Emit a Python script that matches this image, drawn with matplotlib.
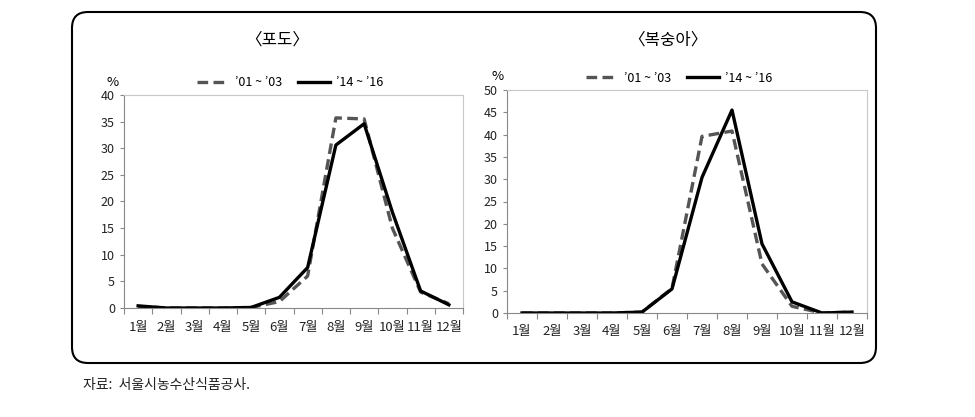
import matplotlib.pyplot as plt
from matplotlib.patches import FancyBboxPatch

plt.rcParams['font.family'] = ['Noto Sans CJK KR', 'DejaVu Sans']

months = ['1월', '2월', '3월', '4월', '5월', '6월', '7월', '8월', '9월', '10월', '11월', '12월']
legend_labels = ['’01 ~ ’03', '’14 ~ ’16']

# 포도 (grape)
grape_0103 = [0.3, 0.0, 0.0, 0.0, 0.1, 1.2, 6.0, 35.7, 35.5, 15.0, 3.0, 0.8]
grape_1416 = [0.4, 0.0, 0.0, 0.0, 0.1, 2.0, 7.6, 30.6, 34.6, 18.0, 3.2, 0.6]

# 복숭아 (peach)
peach_0103 = [0.0, 0.0, 0.0, 0.0, 0.2, 5.5, 39.6, 40.8, 11.0, 1.5, 0.0, 0.2]
peach_1416 = [0.0, 0.0, 0.0, 0.0, 0.2, 5.4, 30.4, 45.5, 15.5, 2.5, 0.0, 0.2]

fig = plt.figure(figsize=(9.75, 4.17), dpi=100)

# background layer in pixel units for the rounded frame and source note
bg = fig.add_axes([0, 0, 1, 1], zorder=-1)
bg.set_xlim(0, 975)
bg.set_ylim(417, 0)
bg.axis('off')
bg.add_patch(FancyBboxPatch((72, 12), 804, 351, boxstyle='round,pad=0,rounding_size=16',
                            fc='white', ec='black', lw=1.5))
bg.text(83, 385, '자료:  서울시농수산식품공사.', fontsize=10, color='#222222', va='center', ha='left')


def draw_panel(rect, title, old, new, ymax, title_xy, pct_xy, leg_y, leg_x):
    ax = fig.add_axes(rect)
    x = list(range(1, 13))
    ax.plot(x, old, color='#555555', lw=2.4, ls=(0, (3.2, 1.6)), label=legend_labels[0])
    ax.plot(x, new, color='black', lw=2.4, label=legend_labels[1])
    ax.set_xlim(0.5, 12.5)
    ax.set_ylim(0, ymax)
    ax.set_yticks(range(0, ymax + 1, 5))
    # ticks between categories, labels at category centres
    ax.set_xticks([i + 0.5 for i in range(0, 13)])
    ax.set_xticklabels([])
    ax.set_xticks(x, minor=True)
    ax.set_xticklabels(months, minor=True)
    ax.tick_params(axis='x', which='major', length=4, color='#888888')
    ax.tick_params(axis='x', which='minor', length=0, pad=9, labelsize=9.5, labelcolor='#222222')
    ax.tick_params(axis='y', length=3, color='#888888', labelsize=9, labelcolor='#222222')
    for s in ['left', 'bottom']:
        ax.spines[s].set_color('#888888')
    for s in ['top', 'right']:
        ax.spines[s].set_color('#c8c8c8')
    for s in ax.spines.values():
        s.set_linewidth(0.8)
    fig.text(title_xy[0] / 975, 1 - title_xy[1] / 417, title, fontsize=12, ha='center', va='center')
    fig.text(pct_xy[0] / 975, 1 - pct_xy[1] / 417, '%', fontsize=9.5, ha='center', va='center')
    ax.legend(loc='center', bbox_to_anchor=(leg_x, leg_y), bbox_transform=fig.transFigure,
              ncol=2, frameon=False, fontsize=9, handlelength=2.6, columnspacing=1.2,
              handletextpad=0.5)
    return ax


draw_panel([124 / 975, 1 - 308 / 417, 339 / 975, 213 / 417], '〈포도〉',
           grape_0103, grape_1416, 40, (277, 40), (113, 82), 1 - 83 / 417, 290 / 975)
draw_panel([507 / 975, 1 - 313 / 417, 360 / 975, 223 / 417], '〈복숭아〉',
           peach_0103, peach_1416, 50, (668, 40), (498, 77), 1 - 78 / 417, 679 / 975)

plt.savefig('out.png', dpi=100)
